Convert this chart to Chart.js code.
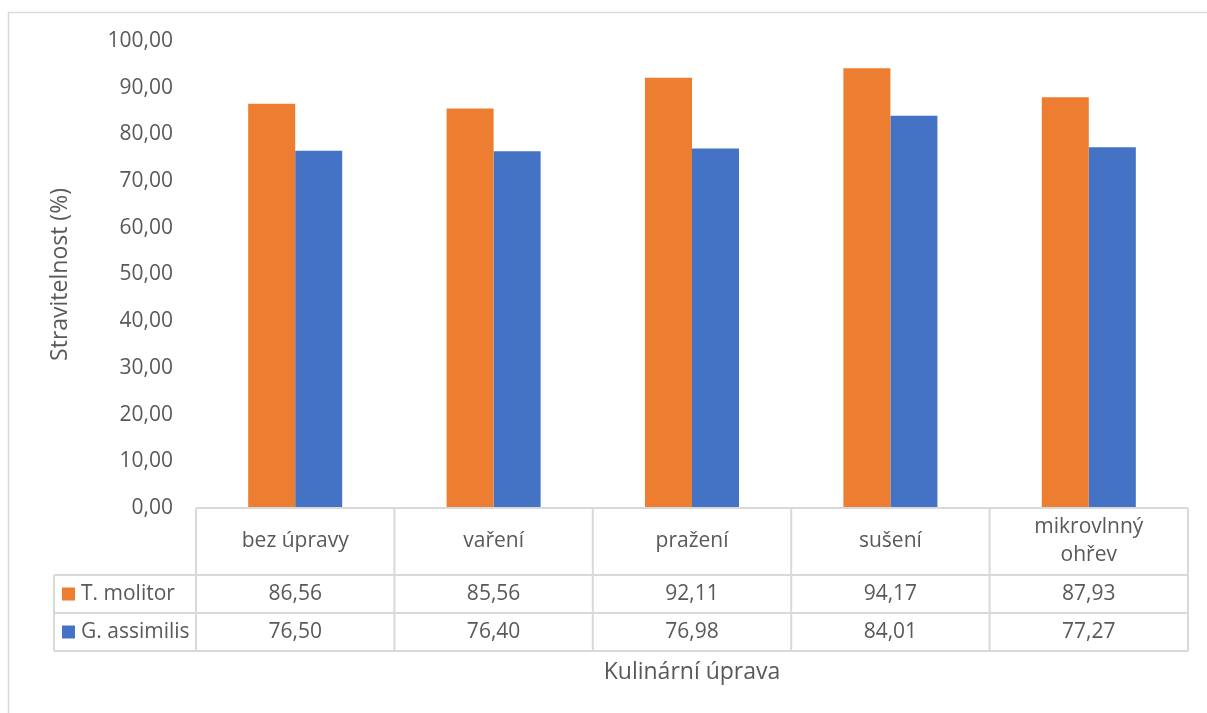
<!DOCTYPE html>
<html>
<head>
<meta charset="utf-8">
<script src="https://cdn.jsdelivr.net/npm/chart.js@4/dist/chart.umd.min.js"></script>
<style>
  html, body { margin: 0; padding: 0; background: #fff; }
  #wrap { width: 1207px; height: 713px; position: relative; }
</style>
</head>
<body>
<div id="wrap"><canvas id="chart"></canvas></div>
<script>
var categories = ['bez úpravy', 'vaření', 'pražení', 'sušení', ['mikrovlnný', 'ohřev']];
var seriesNames = ['T. molitor', 'G. assimilis'];
var molitorValues = [86.56, 85.56, 92.11, 94.17, 87.93];
var assimilisValues = [76.50, 76.40, 76.98, 84.01, 77.27];
var seriesColors = ['#ED7D31', '#4472C4'];

var textColor = '#595959';
var lineColor = '#D9D9D9';
var fontFamily = '"Open Sans", "Noto Sans", sans-serif';

function fmt(v) {
    return v.toFixed(2).replace('.', ',');
}

var tablePlugin = {
    id: 'dataTable',
    beforeDraw: function(chart) {
        var ctx = chart.ctx;
        ctx.save();
        ctx.strokeStyle = lineColor;
        ctx.lineWidth = 1.5;
        ctx.strokeRect(8.5, 12.5, 1206, 720);
        ctx.restore();
    },
    afterDraw: function(chart) {
        var ctx = chart.ctx;
        var area = chart.chartArea;
        var xs = chart.scales.x;
        var n = categories.length;
        var cw = (area.right - area.left) / n;
        var top = area.bottom;
        var headH = 67, rowH = 38;
        var legendLeft = 54;
        var rows = [molitorValues, assimilisValues];

        ctx.save();
        ctx.strokeStyle = lineColor;
        ctx.lineWidth = 2;
        ctx.beginPath();
        // horizontal lines
        ctx.moveTo(area.left, top); ctx.lineTo(area.right, top);
        for (var r = 0; r <= rows.length; r++) {
            var y = top + headH + r * rowH;
            ctx.moveTo(legendLeft, y); ctx.lineTo(area.right, y);
        }
        // vertical lines
        ctx.moveTo(legendLeft, top + headH); ctx.lineTo(legendLeft, top + headH + rows.length * rowH);
        for (var i = 0; i <= n; i++) {
            var x = area.left + i * cw;
            ctx.moveTo(x, top); ctx.lineTo(x, top + headH + rows.length * rowH);
        }
        ctx.stroke();

        ctx.fillStyle = textColor;
        ctx.font = '21px ' + fontFamily;
        ctx.textAlign = 'center';
        ctx.textBaseline = 'middle';
        categories.forEach(function(c, i) {
            var cx = xs.getPixelForValue(i);
            var lines = Array.isArray(c) ? c : [c];
            var lh = 28;
            var y0 = top + headH / 2 - (lines.length - 1) * lh / 2;
            lines.forEach(function(l, k) {
                ctx.fillText(l, cx, y0 + k * lh);
            });
        });

        rows.forEach(function(vals, r) {
            var cy = top + headH + r * rowH + rowH / 2;
            ctx.fillStyle = seriesColors[r];
            ctx.fillRect(62, cy - 6.5, 13, 13);
            ctx.fillStyle = textColor;
            ctx.textAlign = 'left';
            ctx.fillText(seriesNames[r], 81, cy);
            ctx.textAlign = 'center';
            vals.forEach(function(v, i) {
                ctx.fillText(fmt(v), xs.getPixelForValue(i), cy);
            });
        });

        // axis titles
        ctx.font = '23px ' + fontFamily;
        ctx.fillText('Kulinární úprava', (area.left + area.right) / 2, 672);
        ctx.translate(60, (area.top + area.bottom) / 2);
        ctx.rotate(-Math.PI / 2);
        ctx.fillText('Stravitelnost (%)', 0, 0);
        ctx.restore();
    }
};

new Chart(document.getElementById('chart'), {
    type: 'bar',
    data: {
        labels: categories,
        datasets: [
            { label: seriesNames[0], data: molitorValues, backgroundColor: seriesColors[0] },
            { label: seriesNames[1], data: assimilisValues, backgroundColor: seriesColors[1] }
        ]
    },
    options: {
        responsive: true,
        maintainAspectRatio: false,
        animation: false,
        layout: { padding: { left: 0, right: 19, top: 41, bottom: 205 } },
        datasets: { bar: { categoryPercentage: 0.474, barPercentage: 1 } },
        plugins: { legend: { display: false }, tooltip: { enabled: false } },
        scales: {
            x: { display: false },
            y: {
                min: 0,
                max: 100,
                border: { display: false },
                grid: { display: false, drawTicks: false },
                ticks: {
                    stepSize: 10,
                    padding: 23,
                    color: textColor,
                    font: { family: fontFamily, size: 21 },
                    callback: function(v) { return fmt(v); }
                },
                afterFit: function(scale) { scale.width = 196; }
            }
        }
    },
    plugins: [tablePlugin]
});
</script>
</body>
</html>
